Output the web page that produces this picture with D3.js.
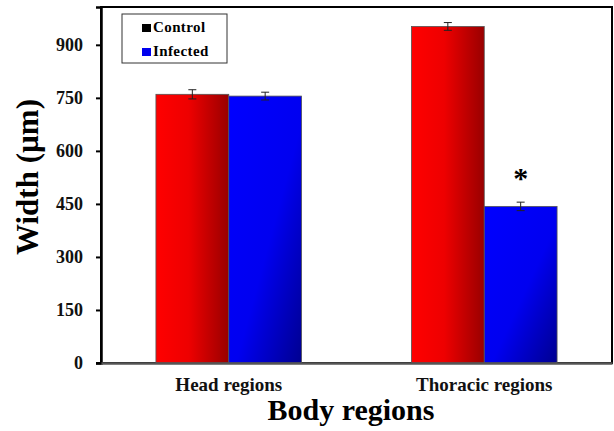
<!DOCTYPE html>
<html>
<head>
<meta charset="utf-8">
<script src="https://cdn.jsdelivr.net/npm/d3@7"></script>
<style>
  body { margin: 0; background: #fff; }
  svg { display: block; }
  svg text { font-family: 'Liberation Serif', 'Times New Roman', serif; }
</style>
</head>
<body>
<svg id="chart"></svg>
<script>
// values
const regions = ['Head regions', 'Thoracic regions'];
const groups = ['Control', 'Infected'];
const controlValues = [760, 952];
const infectedValues = [755, 443];
const controlErrors = [13, 11];
const infectedErrors = [11, 12];
const yTicks = [0, 150, 300, 450, 600, 750, 900];
const markers = ['', '*'];

const width = 614;
const height = 431;
const margin = {top: 7, right: 2, bottom: 68, left: 101};
const serif = "'Liberation Serif', 'Times New Roman', serif";

const svg = d3.select('#chart')
    .attr('width', width)
    .attr('height', height)
    .attr('font-family', serif);

const defs = svg.append('defs');

const red = defs.append('linearGradient')
    .attr('id', 'redFill')
    .attr('x1', '0').attr('y1', '0')
    .attr('x2', '1').attr('y2', '0');
red.append('stop').attr('offset', '0').attr('stop-color', '#ff0000');
red.append('stop').attr('offset', '0.45').attr('stop-color', '#ee0000');
red.append('stop').attr('offset', '1').attr('stop-color', '#990000');

const blue = defs.append('linearGradient')
    .attr('id', 'blueFill')
    .attr('x1', '0').attr('y1', '0')
    .attr('x2', '1').attr('y2', '1');
blue.append('stop').attr('offset', '0').attr('stop-color', '#0000ff');
blue.append('stop').attr('offset', '0.55').attr('stop-color', '#0000f0');
blue.append('stop').attr('offset', '1').attr('stop-color', '#000090');

const fills = {Control: 'url(#redFill)', Infected: 'url(#blueFill)'};

const x0 = d3.scaleBand()
    .domain(regions)
    .range([margin.left, width - margin.right])
    .paddingInner(0.43)
    .paddingOuter(0.215);

const x1 = d3.scaleBand()
    .domain(groups)
    .range([0, x0.bandwidth()]);

const y = d3.scaleLinear()
    .domain([0, 1007])
    .range([height - margin.bottom, margin.top]);

const data = regions.map(function(region, i) {
    return {
        region: region,
        marker: markers[i],
        bars: [
            {group: 'Control', value: controlValues[i], err: controlErrors[i]},
            {group: 'Infected', value: infectedValues[i], err: infectedErrors[i]}
        ]
    };
});

// plot frame
svg.append('rect')
    .attr('x', margin.left)
    .attr('y', margin.top)
    .attr('width', width - margin.left - margin.right)
    .attr('height', y(0) - margin.top)
    .attr('fill', 'none')
    .attr('stroke', '#000')
    .attr('stroke-width', 2);

const region = svg.append('g')
    .selectAll('g')
    .data(data)
    .enter()
    .append('g')
    .attr('transform', function(d) {
        return 'translate(' + x0(d.region) + ',0)';
    });

region.selectAll('rect')
    .data(function(d) { return d.bars; })
    .enter()
    .append('rect')
    .attr('x', function(d) { return x1(d.group); })
    .attr('y', function(d) { return y(d.value); })
    .attr('width', x1.bandwidth())
    .attr('height', function(d) { return y(0) - y(d.value); })
    .attr('fill', function(d) { return fills[d.group]; })
    .attr('stroke', '#555')
    .attr('stroke-width', 0.8);

// error bars
const capHalf = 4;
const err = region.selectAll('g.err')
    .data(function(d) { return d.bars; })
    .enter()
    .append('g')
    .attr('class', 'err')
    .attr('stroke', '#222')
    .attr('stroke-width', 1);

err.append('line')
    .attr('x1', function(d) { return x1(d.group) + x1.bandwidth() / 2; })
    .attr('x2', function(d) { return x1(d.group) + x1.bandwidth() / 2; })
    .attr('y1', function(d) { return y(d.value + d.err); })
    .attr('y2', function(d) { return y(d.value - d.err); });

err.append('line')
    .attr('x1', function(d) { return x1(d.group) + x1.bandwidth() / 2 - capHalf; })
    .attr('x2', function(d) { return x1(d.group) + x1.bandwidth() / 2 + capHalf; })
    .attr('y1', function(d) { return y(d.value + d.err); })
    .attr('y2', function(d) { return y(d.value + d.err); });

err.append('line')
    .attr('x1', function(d) { return x1(d.group) + x1.bandwidth() / 2 - capHalf; })
    .attr('x2', function(d) { return x1(d.group) + x1.bandwidth() / 2 + capHalf; })
    .attr('y1', function(d) { return y(d.value - d.err); })
    .attr('y2', function(d) { return y(d.value - d.err); });

// significance marker above the infected bar
region.append('text')
    .attr('x', x1('Infected') + x1.bandwidth() / 2)
    .attr('y', function(d) { return y(d.bars[1].value + d.bars[1].err) - 14; })
    .attr('text-anchor', 'middle')
    .style('font-size', '30px')
    .style('font-weight', 'bold')
    .text(function(d) { return d.marker; });

// y axis
const yAxis = svg.append('g')
    .attr('transform', 'translate(' + margin.left + ',0)')
    .call(d3.axisLeft(y).tickValues(yTicks).tickSize(5).tickPadding(13))
    .attr('font-family', serif);
yAxis.select('.domain').attr('stroke', '#000').attr('stroke-width', 2.5);
yAxis.selectAll('.tick line').attr('stroke', '#000').attr('stroke-width', 2);
yAxis.selectAll('.tick text')
    .attr('font-size', 18)
    .attr('font-weight', 'bold')
    .attr('fill', '#111');

// x axis
const xAxis = svg.append('g')
    .attr('transform', 'translate(0,' + y(0) + ')')
    .call(d3.axisBottom(x0).tickSize(0).tickPadding(15).tickSizeOuter(0))
    .attr('font-family', serif);
xAxis.select('.domain').attr('stroke', '#555').attr('stroke-width', 2.5);
xAxis.selectAll('.tick text')
    .attr('font-size', 19)
    .attr('font-weight', 'bold')
    .attr('fill', '#111');

svg.append('line')
    .attr('x1', margin.left - 5)
    .attr('x2', margin.left)
    .attr('y1', y(0))
    .attr('y2', y(0))
    .attr('stroke', '#000')
    .attr('stroke-width', 2);

// axis titles
svg.append('text')
    .attr('transform', 'translate(38,177) rotate(-90)')
    .attr('text-anchor', 'middle')
    .style('font-size', '31px')
    .style('font-weight', 'bold')
    .text('Width (µm)');

svg.append('text')
    .attr('x', 351)
    .attr('y', 420)
    .attr('text-anchor', 'middle')
    .style('font-size', '30px')
    .style('font-weight', 'bold')
    .text('Body regions');

// legend
const legend = svg.append('g')
    .attr('transform', 'translate(122,14)');

legend.append('rect')
    .attr('width', 105)
    .attr('height', 49)
    .attr('fill', '#fff')
    .attr('stroke', '#333')
    .attr('stroke-width', 1);

const legendColors = {Control: '#000', Infected: '#0000ee'};

const item = legend.selectAll('g')
    .data(groups)
    .enter()
    .append('g')
    .attr('transform', function(d, i) {
        return 'translate(20,' + (18 + i * 24) + ')';
    });

item.append('rect')
    .attr('x', 0)
    .attr('y', -8)
    .attr('width', 9)
    .attr('height', 8)
    .attr('fill', function(d) { return legendColors[d]; });

item.append('text')
    .attr('x', 11)
    .attr('y', 0)
    .style('font-size', '15px')
    .style('font-weight', 'bold')
    .style('letter-spacing', '0.4px')
    .text(function(d) { return d; });
</script>
</body>
</html>
